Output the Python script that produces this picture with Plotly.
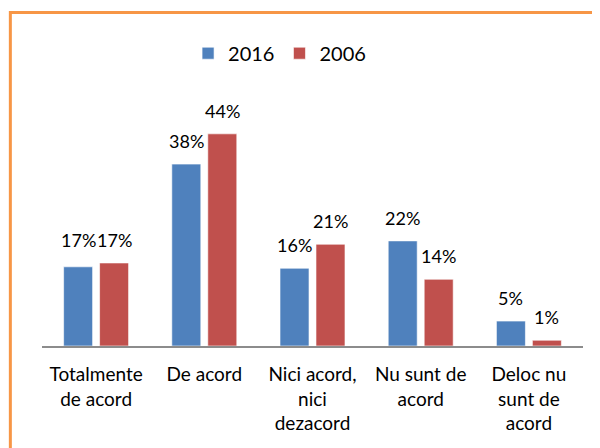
import plotly.graph_objects as go

# data
categories = ['Totalmente<br>de acord', 'De acord', 'Nici acord,<br>nici<br>dezacord',
              'Nu sunt de<br>acord', 'Deloc nu<br>sunt de<br>acord']
val_2016 = [16.5, 37.9, 16.2, 21.9, 5.2]
val_2006 = [17.3, 44.2, 21.2, 13.9, 1.2]
lab_2016 = ['17%', '38%', '16%', '22%', '5%']
lab_2006 = ['17%', '44%', '21%', '14%', '1%']

BLUE = '#4F81BD'
RED = '#C0504D'
ORANGE = '#F79646'
FONT = 'Lato'

fig = go.Figure()
fig.add_trace(go.Bar(x=categories, y=val_2016, name='2016', marker_color=BLUE,
                     marker_line=dict(color='rgba(255,255,255,0.6)', width=1)))
fig.add_trace(go.Bar(x=categories, y=val_2006, name='2006', marker_color=RED,
                     marker_line=dict(color='rgba(255,255,255,0.6)', width=1)))

# value labels above the bars
annots = []
for c, v, t in zip(categories, val_2016, lab_2016):
    annots.append(dict(x=c, y=v, text=t, xref='x', yref='y', showarrow=False,
                       xshift=-18, yshift=23, yanchor='middle',
                       font=dict(size=18, color='black', family=FONT)))
for c, v, t in zip(categories, val_2006, lab_2006):
    annots.append(dict(x=c, y=v, text=t, xref='x', yref='y', showarrow=False,
                       xshift=18, yshift=23, yanchor='middle',
                       font=dict(size=18, color='black', family=FONT)))
# both 17% labels sit at the same height in the original
annots[0]['y'] = val_2006[0]

# page body adds 8px; margins compensate
fig.update_layout(
    width=600, height=448,
    margin=dict(l=34, r=25, t=98, b=110),
    paper_bgcolor='white', plot_bgcolor='white',
    barmode='group', bargap=0.335, bargroupgap=0.194,
    font=dict(family=FONT, color='black'),
    showlegend=True,
    legend=dict(orientation='h', x=0.27, xanchor='left', y=1.22, yanchor='middle',
                font=dict(size=20), itemwidth=30, traceorder='normal'),
    annotations=annots,
    shapes=[dict(type='rect', xref='paper', yref='paper',
                 x0=-0.0585, x1=1.2, y0=-0.6, y1=1.39,
                 line=dict(color=ORANGE, width=3))],
)
fig.update_xaxes(showline=True, linecolor='#8c8c8c', linewidth=2, ticks='',
                 tickfont=dict(size=19, family=FONT), showgrid=False,
                 ticklabelstandoff=10, automargin=False)
fig.update_yaxes(visible=False, range=[0, 50], automargin=False)

fig.write_html("out.html")
